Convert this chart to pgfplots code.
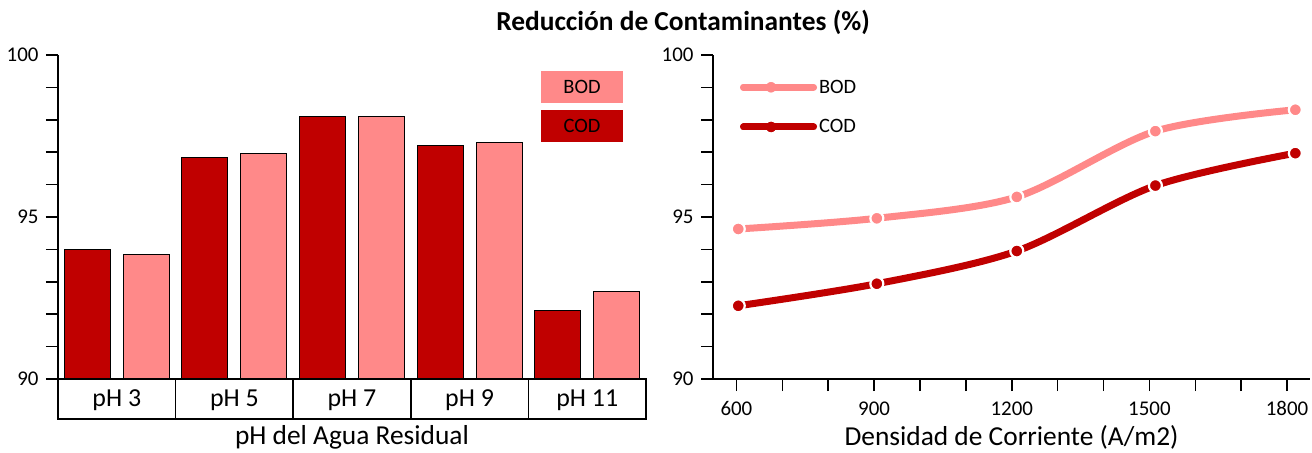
\documentclass[border=0pt]{standalone}
\usepackage{pgfplots}
\pgfplotsset{compat=1.18}
\usepackage{fontspec}
\setmainfont{Carlito}
\definecolor{codc}{HTML}{C00000}
\definecolor{bodc}{HTML}{FF8989}
\begin{document}
\begin{tikzpicture}[x=1bp,y=1bp]
\path[use as bounding box] (0,0) rectangle (1312,-453);
\pgfplotsset{
 common/.style={
  scale only axis, height=324bp, ymin=90, ymax=100,
  axis x line*=bottom, axis y line*=left,
  axis line style={-, line width=1.8bp, black},
  ytick={90,95,100}, minor ytick={91,...,99},
  tick align=outside, major tick length=12bp, minor tick length=12bp,
  tick style={black, line width=1.6bp},
  ticklabel style={font=\fontsize{21}{25}\selectfont},
  yticklabel style={xshift=-4bp},
  /pgf/number format/assume math mode=true,
  /pgf/number format/1000 sep={},
  label style={font=\fontsize{27.5}{32}\selectfont},
  xlabel style={at={(axis description cs:0.5,0)}, anchor=center, yshift=-58bp},
 }
}
% left chart
\begin{axis}[common, at={(58bp,-379bp)}, anchor=south west, width=588bp,
  xmin=0.5, xmax=5.5, xtick={1,...,5},
  xticklabels={pH 3,pH 5,pH 7,pH 9,pH 11},
  x tick style={draw=none},
  xticklabel style={anchor=center, yshift=-9bp, font=\fontsize{26}{30}\selectfont},
  xlabel={pH del Agua Residual}]
\addplot[ybar, bar width=46bp, bar shift=-29.5bp, fill=codc, draw=black, line width=1bp]
  coordinates {(1,94.0) (2,96.85) (3,98.1) (4,97.2) (5,92.1)};
\addplot[ybar, bar width=46bp, bar shift=29.5bp, fill=bodc, draw=black, line width=1bp]
  coordinates {(1,93.85) (2,96.95) (3,98.1) (4,97.3) (5,92.7)};
\end{axis}
\draw[line width=1.8bp] (58,-379) rectangle (646,-419);
\foreach \xx in {175.6,293.2,410.8,528.4} \draw[line width=1.6bp] (\xx,-379) -- (\xx,-419);
\node[fill=bodc, minimum width=82bp, minimum height=32bp, font=\fontsize{20.5}{24}\selectfont] at (582,-87) {BOD};
\node[fill=codc, minimum width=82bp, minimum height=32bp, font=\fontsize{20.5}{24}\selectfont] at (582,-126) {COD};
% right chart
\begin{axis}[common, at={(713bp,-379bp)}, anchor=south west, width=597bp,
  xmin=549, xmax=1850, xtick={600,900,1200,1500,1800},
  minor xtick={700,800,1000,1100,1300,1400,1600,1700},
  xticklabel style={yshift=-7bp},
  xlabel={Densidad de Corriente (A/m2)},
  legend style={draw=none, fill=none, at={(axis description cs:0.045,0.93)}, anchor=north west,
    font=\fontsize{20.5}{24}\selectfont, row sep=21bp, inner sep=0pt},
  legend cell align=left,
  legend image code/.code={\draw[mark repeat=2,mark phase=2,#1] plot coordinates {(0bp,0bp) (27.5bp,0bp) (55bp,0bp)}; \path (0bp,0bp) -- (70bp,0bp);}]
\addplot[bodc, line width=7bp, smooth, line cap=round, mark=*, mark size=6.5bp,
  mark options={fill=bodc, draw=white, line width=2.2bp}]
  coordinates {(604,94.63) (906,94.96) (1211,95.62) (1513,97.65) (1818,98.31)};
\addlegendentry{BOD}
\addplot[codc, line width=7bp, smooth, line cap=round, mark=*, mark size=6.5bp,
  mark options={fill=codc, draw=white, line width=2.2bp}]
  coordinates {(604,92.26) (906,92.94) (1211,93.95) (1513,95.97) (1818,96.97)};
\addlegendentry{COD}
\end{axis}
\node[font=\fontsize{27.5}{32}\selectfont\bfseries] at (683,-22) {Reducción de Contaminantes (\%)};
\end{tikzpicture}
\end{document}
